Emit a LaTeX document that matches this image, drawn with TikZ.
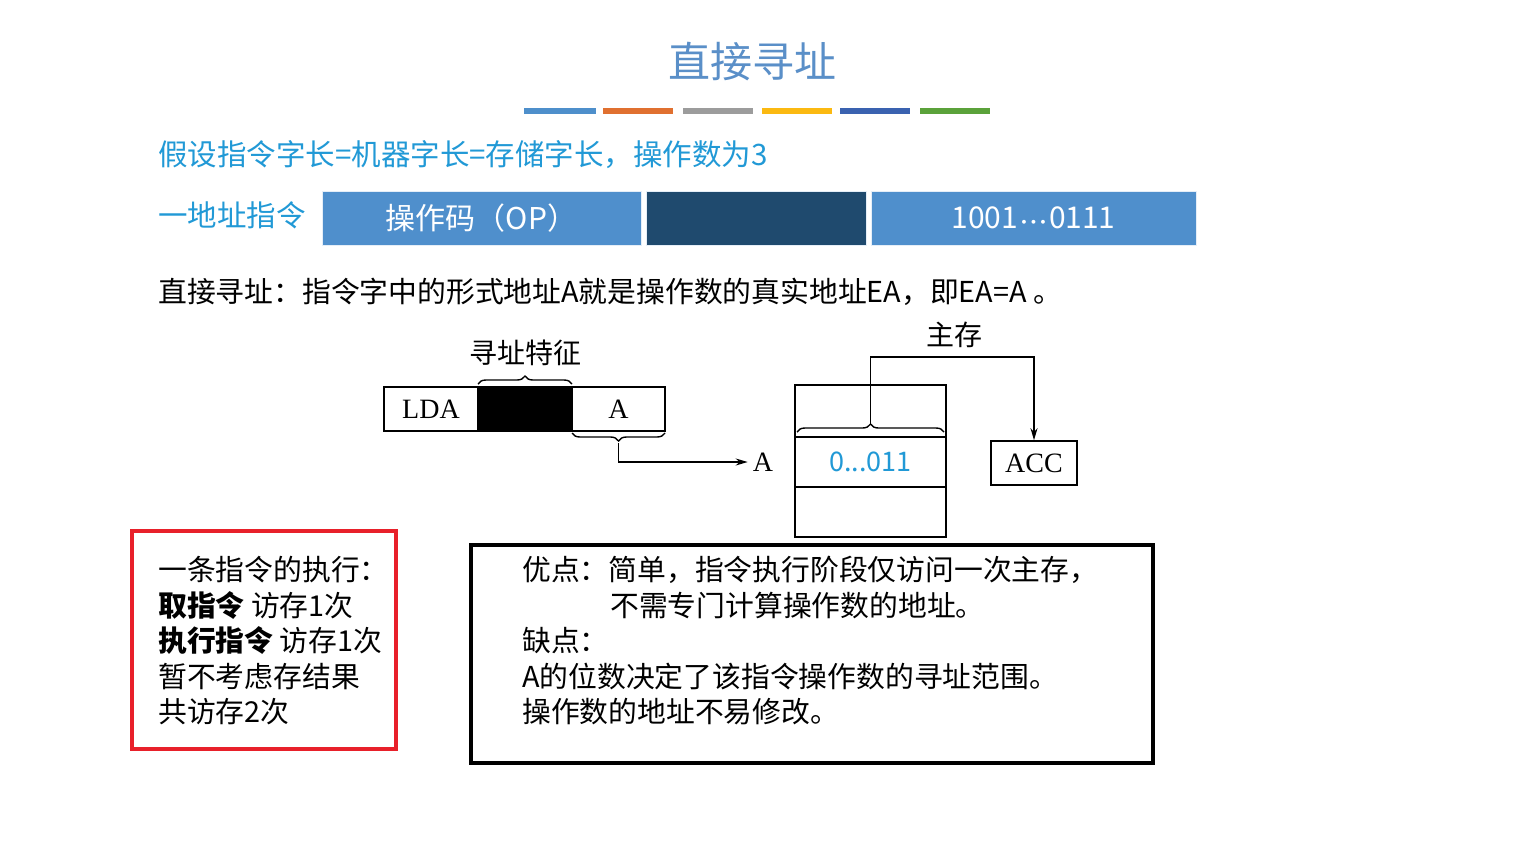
\documentclass[tikz,border=0pt]{standalone}
\usepackage{fontspec}
\setmainfont{Noto Sans CJK SC}
\newfontfamily\tm{Liberation Serif}
\usetikzlibrary{decorations.pathreplacing,arrows.meta}
\definecolor{titleblue}{HTML}{5A8FC8}
\definecolor{headcyan}{HTML}{2199D6}
\definecolor{lightbox}{HTML}{4F8FCC}
\definecolor{darkbox}{HTML}{1F4A6E}
\definecolor{boxred}{HTML}{E8202A}
\definecolor{b1}{HTML}{4E8FCB}
\definecolor{b2}{HTML}{E07030}
\definecolor{b3}{HTML}{9C9C9C}
\definecolor{b4}{HTML}{FBB911}
\definecolor{b5}{HTML}{3A62B0}
\definecolor{b6}{HTML}{5BA23A}
\tikzset{
  fs/.style={font=\fontsize{#1}{#1}\selectfont},
  txt/.style={anchor=west, inner sep=0pt, fs=28.8},
  block/.style={anchor=north west, inner sep=0pt, align=left, font=\fontsize{28.8}{35.5}\selectfont},
  instr/.style={fill=#1, draw=white!85!lightbox, line width=1pt, minimum height=54pt, inner sep=0pt, text=white, fs=30},
  cell/.style={draw=black, line width=1.6pt, inner sep=0pt, font=\tm\fontsize{28}{28}\selectfont},
  brc/.style={decorate, decoration={brace, amplitude=8pt}, line width=1.4pt},
  conn/.style={line width=1.6pt},
}
\begin{document}
\begin{tikzpicture}[x=1pt,y=-1pt]
\useasboundingbox[fill=white] (0,0) rectangle (1530,860);
% title
\node[fs=42, text=titleblue, inner sep=0pt] (title) at (752,62) {直接寻址};
\fill[b1] (524,108) rectangle (596,114);
\fill[b2] (603,108) rectangle (673,114);
\fill[b3] (683,108) rectangle (753,114);
\fill[b4] (762,108) rectangle (832,114);
\fill[b5] (840,108) rectangle (910,114);
\fill[b6] (920,108) rectangle (990,114);
% heading lines
\node[txt, text=headcyan, fs=29.5] (h1) at (158,155) {假设指令字长=机器字长=存储字长，操作数为3};
\node[txt, text=headcyan, fs=29.5] (h2) at (158,215) {一地址指令};
\node[instr=lightbox, minimum width=319pt] (op) at (481.5,218) {操作码（OP）};
\node[instr=darkbox, minimum width=220pt] (mid) at (756,218) {};
\node[instr=lightbox, minimum width=325pt] (addr) at (1033.5,218) {1001\hspace{2pt}{\boldmath$\cdot\!\cdot\!\cdot$}\hspace{2pt}0111};
\node[txt] (def) at (158,292) {直接寻址：指令字中的形式地址A就是操作数的真实地址EA，即EA=A 。};
% instruction diagram
\node[cell, minimum width=94pt, minimum height=44pt] (lda) at (431,409) {LDA};
\node[cell, fill=black, minimum width=94pt, minimum height=44pt] (blk) at (525,409) {};
\node[cell, minimum width=93pt, minimum height=44pt] (abox) at (618.5,409) {A};
\draw[brc] (478,384) -- (572,384);
\node[fs=28, inner sep=0pt] (feat) at (525,353) {寻址特征};
\draw[brc] (665,433) -- (572,433);
\coordinate (bA) at (618.5,443);
\node[inner sep=0pt, font=\tm\fontsize{28}{28}\selectfont] (alab) at (763,462) {A};
\draw[conn, -{Stealth[length=12pt,width=7pt]}] (bA) |- ([xshift=-5pt]alab.west);
% memory
\node[cell, minimum width=151pt, minimum height=52pt] (memtop) at (870.5,411) {};
\node[cell, minimum width=151pt, minimum height=50pt, font=\fontsize{27}{27}\selectfont, text=headcyan] (memcell) at (870.5,462) {0...011};
\node[cell, minimum width=151pt, minimum height=50pt] (membot) at (870.5,512) {};
\draw[brc] (797,432) -- (944,432);
\coordinate (bM) at (870.5,424);
\node[cell, minimum width=86pt, minimum height=44pt] (acc) at (1034,463) {ACC};
\node[fs=28, inner sep=0pt] (mlab) at (954,335) {主存};
\draw[conn, -{Stealth[length=12pt,width=7pt]}] (bM) -- (870.5,357) -| (acc.north);
% red box
\node[draw=boxred, line width=4pt, minimum width=264pt, minimum height=218pt, inner sep=0pt] (redbox) at (264,640) {};
\node[block] (redtxt) at (158,556) {一条指令的执行：\\{\bfseries 取指令} 访存1次\\{\bfseries 执行指令} 访存1次\\暂不考虑存结果\\共访存2次};
% black box
\node[draw=black, line width=4pt, minimum width=682pt, minimum height=218pt, inner sep=0pt] (blackbox) at (812,654) {};
\node[block] (blktxt) at (522,556) {优点：简单，指令执行阶段仅访问一次主存，\\\hspace*{88pt}不需专门计算操作数的地址。\\缺点：\\A的位数决定了该指令操作数的寻址范围。\\操作数的地址不易修改。};
\end{tikzpicture}
\end{document}
